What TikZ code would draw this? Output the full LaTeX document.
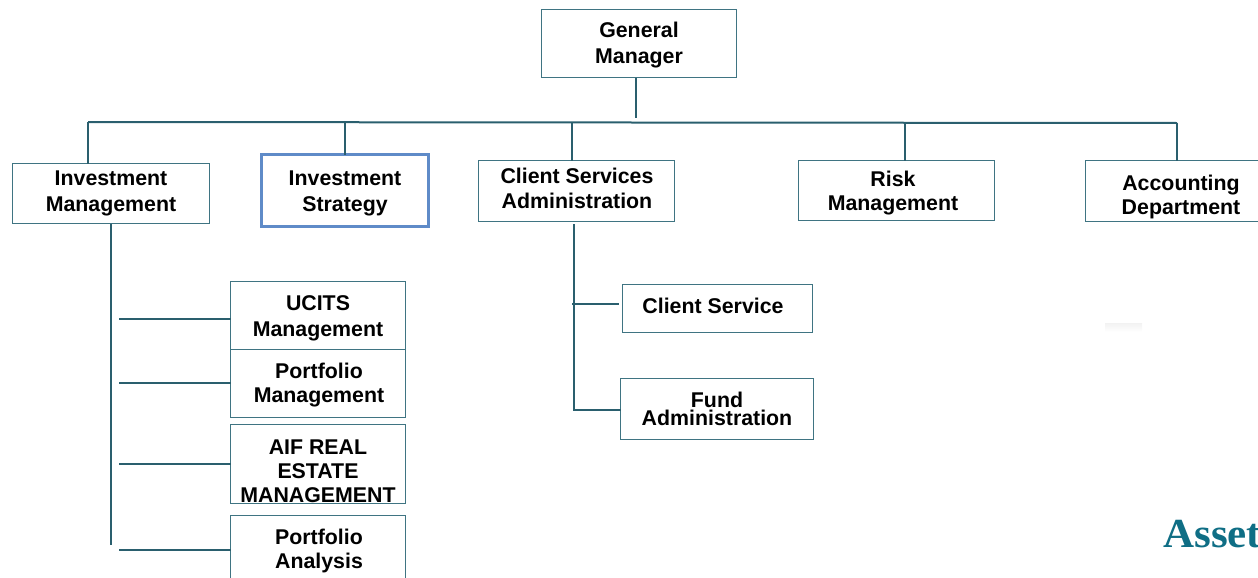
\documentclass[tikz,border=0pt]{standalone}
\usepackage{fontspec}
\setmainfont{Liberation Sans}
\newfontfamily\logofont{Liberation Serif}
\definecolor{linec}{HTML}{2A5F6E}
\definecolor{boxc}{HTML}{3F7482}
\definecolor{bluec}{HTML}{5F8BC8}
\definecolor{logoc}{HTML}{0F6E85}
\newcommand\orgbox[6]{% name, x1, y1, x2, y2, style
  \node[boxs,#6,minimum width=0.75pt*(#4-#2),minimum height=0.75pt*(#5-#3)] (#1) at ({(#2+#4)/2-0.5},{(#3+#5)/2-0.5}) {};}
\tikzset{
  x=0.75pt,y=-0.75pt,
  boxs/.style={draw=boxc,line width=0.65pt,fill=white,inner sep=0pt,outer sep=0pt,rectangle},
  conn/.style={draw=linec,line width=1.5pt},
  lbl/.style={align=center,inner sep=0pt,text=black},
  sp26/.style={lbl,font=\fontsize{16}{19.5}\selectfont\bfseries},
  sp25/.style={lbl,font=\fontsize{16}{18.75}\selectfont\bfseries},
  sp24/.style={lbl,font=\fontsize{16}{18}\selectfont\bfseries},
  sp18/.style={lbl,font=\fontsize{16}{13.5}\selectfont\bfseries},
}
\begin{document}
\begin{tikzpicture}
\useasboundingbox (0,0) rectangle (1258,578);
\clip (0,0) rectangle (1258,578);
% bus end points and free connector ends
\coordinate (busL) at (88,122);
\coordinate (busR) at (1177,123);
\coordinate (gmEnd) at (636,118);
\coordinate (dropIS) at (345,122);
\coordinate (dropCS) at (572,122);
\coordinate (dropRM) at (905,123);
\coordinate (imTop) at (111,224);
\coordinate (imEnd) at (111,545);
\coordinate (csaTop) at (574,224);
\coordinate (st1) at (119,319);
\coordinate (st2) at (119,383);
\coordinate (st3) at (119,464);
\coordinate (st4) at (119,549.5);
\coordinate (st5) at (572,304);
\coordinate (st5e) at (619,304);
\coordinate (st6) at (574,410);

\orgbox{gm}{542}{10}{737}{78}{}
\orgbox{im}{13}{164}{210}{224}{}
\orgbox{is}{262}{155}{429}{227}{draw=bluec,line width=1.9pt}
\orgbox{csa}{479}{161}{675}{221.5}{}
\orgbox{rm}{799}{161}{995}{221}{}
\orgbox{ad}{1086}{161}{1264}{222}{}
\orgbox{uc}{231}{282}{406}{350}{}
\orgbox{pm}{231}{350}{406}{418}{}
\orgbox{aif}{231}{425}{406}{504}{}
\orgbox{pa}{231}{516}{406}{586}{}
\orgbox{cl}{623}{285}{813}{332.5}{}
\orgbox{fa}{621}{379}{814}{440}{}

\node[sp26] (gmt) at (639,45.5) {General\\Manager};
\node[sp26] (imt) at (111,193.5) {Investment\\Management};
\node[sp26] (ist) at (345,193.5) {Investment\\Strategy};
\node[sp25] (csat) at (577,188.5) {Client Services\\Administration};
\node[sp24] (rmt) at (893,193.5) {Risk\\Management};
\node[sp24] (adt) at (1181,196.5) {Accounting\\Department};
\node[sp26] (uct) at (318,318.5) {UCITS\\Management};
\node[sp24] (pmt) at (319,385.5) {Portfolio\\Management};
\node[sp24] (aift) at (318,471) {AIF REAL\\ESTATE\\MANAGEMENT};
\node[sp24] (pat) at (319,550.5) {Portfolio\\Analysis};
\node[sp26] (clt) at (713,306) {Client Service};
\node[sp18] (fat) at (717,408.5) {Fund\\Administration};

\draw[conn] (gm.south -| gmEnd) -- (gmEnd);
\draw[conn] (busL) -- (busR);
\draw[conn] (busL) -- (busL |- im.north);
\draw[conn] (dropIS) -- (dropIS |- is.north);
\draw[conn] (dropCS) -- (dropCS |- csa.north);
\draw[conn] (dropRM) -- (dropRM |- rm.north);
\draw[conn] (busR) -- (busR |- ad.north);
\draw[conn] (imTop) -- (imEnd);
\draw[conn] (st1) -- (st1 -| uc.west);
\draw[conn] (st2) -- (st2 -| pm.west);
\draw[conn] (st3) -- (st3 -| aif.west);
\draw[conn] (st4) -- (st4 -| pa.west);
\draw[conn] (csaTop) -- (st6) -- (st6 -| fa.west);
\draw[conn] (st5) -- (st5e);

\shade[top color=black!5,bottom color=white,draw=none] (1105,323) rectangle (1142,332);
\node[anchor=base west,inner sep=0pt,text=logoc,font=\logofont\bfseries\fontsize{31}{31}\selectfont,xscale=1.04] (logo) at (1163,547.5) {Asset};
\end{tikzpicture}
\end{document}
